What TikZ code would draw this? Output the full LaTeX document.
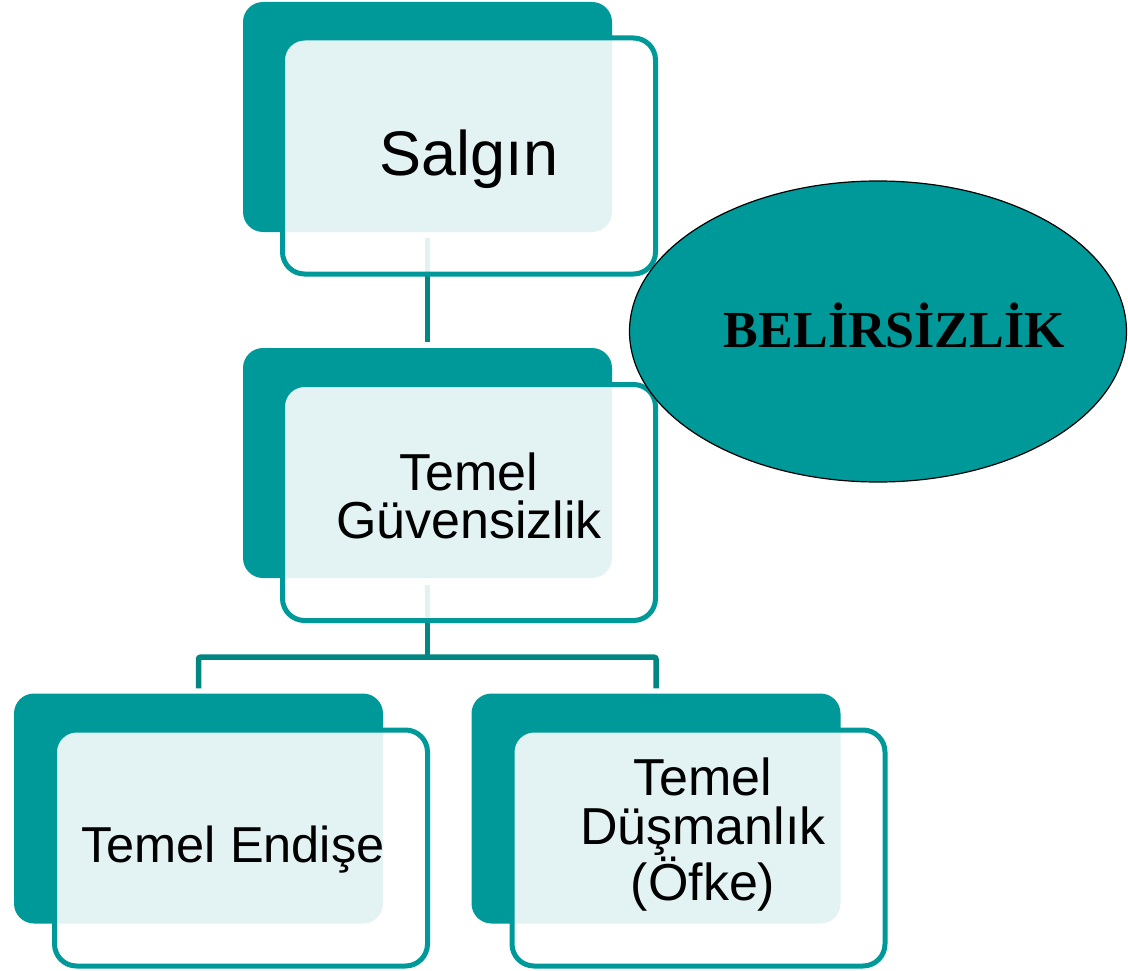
\documentclass[tikz,border=0pt]{standalone}
\usepackage{fontspec}
\setmainfont{Liberation Sans}
\newfontfamily\serifbold{Liberation Serif}
\usetikzlibrary{shapes.geometric,calc}
\definecolor{teal1}{RGB}{0,153,153}
\definecolor{conncol}{RGB}{0,135,130}
\begin{document}
\begin{tikzpicture}[x=1pt,y=-1pt,
  back/.style={rectangle, rounded corners=20pt, fill=teal1, draw=none,
    minimum width=369pt, minimum height=230pt, inner sep=0pt},
  front/.style={rectangle, rounded corners=22pt, draw=teal1, line width=5pt,
    fill=white, fill opacity=0.89, minimum width=373pt, minimum height=236pt, inner sep=0pt},
  conn/.style={draw=conncol, line width=5.5pt},
  lbl/.style={anchor=base, align=center, text=black, inner sep=0pt,
    font=\fontsize{52}{48}\selectfont},
]
\useasboundingbox (0,0) rectangle (1128,971);

% back boxes
\node[back] (salBack) at (427.5,117) {};
\node[back] (guvBack) at (427.5,463) {};
\node[back] (endBack) at (198.5,808.5) {};
\node[back] (dusBack) at (656,808.5) {};

% connectors
\coordinate (j1) at ($(guvBack.south)+(0,79)$);
\draw[conn] ($(salBack.south)+(0,6)$) -- ($(guvBack.north)+(0,-6)$);
\draw[conn] ($(guvBack.south)+(0,7)$) -- (j1);
\draw[conn, rounded corners=2pt] ($(endBack.north)+(0,-5)$) |- (j1) -| ($(dusBack.north)+(0,-5)$);

% front boxes
\node[front] (salFront) at (469,156) {};
\node[front] (guvFront) at (469,502.5) {};
\node[front] (endFront) at (241,848) {};
\node[front] (dusFront) at (698.5,848) {};

% labels
\node[lbl, font=\fontsize{63}{70}\selectfont] (salTxt) at (469,176) {Salgın};
\node[lbl] (guvTxt) at (469,538) {Temel\\Güvensizlik};
\node[lbl, font=\fontsize{50.5}{48}\selectfont] (endTxt) at (233,862) {Temel Endişe};
\node[lbl, font=\fontsize{52}{48.5}\selectfont] (dusTxt) at (703,900) {Temel\\Düşmanlık\\(Öfke)};

% ellipse
\node[ellipse, fill=teal1, draw=black, line width=1.2pt, minimum width=497pt,
  minimum height=301pt, inner sep=0pt] (bel) at (878,331.5) {};
\node[anchor=base, inner sep=0pt, text=black,
  font=\serifbold\bfseries\fontsize{52}{60}\selectfont] (belTxt) at (894.5,347) {BELİRSİZLİK};
\end{tikzpicture}
\end{document}
